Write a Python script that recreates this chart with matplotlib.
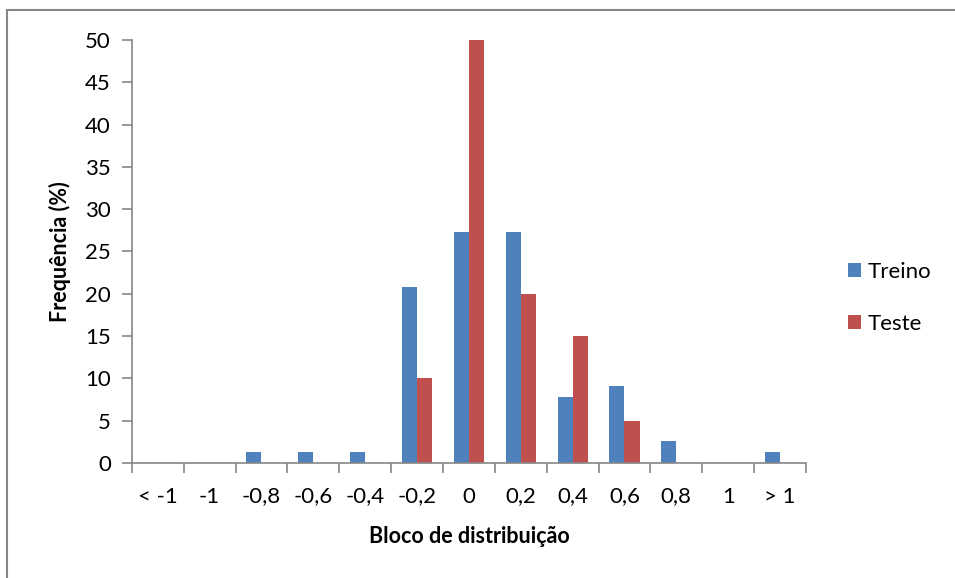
import numpy as np
import matplotlib.pyplot as plt
from matplotlib.lines import Line2D

plt.rcParams['font.family'] = ['Lato', 'DejaVu Sans']

categorias = ['< -1', '-1', '-0,8', '-0,6', '-0,4', '-0,2', '0', '0,2', '0,4', '0,6', '0,8', '1', '> 1']
treino = [0, 0, 1.3, 1.3, 1.3, 20.8, 27.3, 27.3, 7.8, 9.1, 2.6, 0, 1.3]
teste = [0, 0, 0, 0, 0, 10, 50, 20, 15, 5, 0, 0, 0]

azul = '#4F81BD'
vermelho = '#C0504D'
cinza = '#868686'

fig = plt.figure(figsize=(9.55, 5.78), dpi=100)
ax = fig.add_axes([0.138, 0.199, 0.706, 0.732])

x = np.arange(len(categorias))
w = 0.29
ax.bar(x - w / 2, treino, w, color=azul, label='Treino')
ax.bar(x + w / 2, teste, w, color=vermelho, label='Teste')

ax.set_xlim(-0.5, len(categorias) - 0.5)
ax.set_ylim(0, 50)
ax.set_yticks(np.arange(0, 51, 5))
ax.set_xticks(x)
ax.set_xticklabels(categorias)
ax.set_xticks(np.arange(len(categorias) + 1) - 0.5, minor=True)
ax.tick_params(axis='x', which='major', length=0, pad=17, labelsize=16)
ax.tick_params(axis='x', which='minor', length=7, width=1.2, color=cinza)
ax.tick_params(axis='y', length=7, width=1.2, color=cinza, labelsize=16, pad=8)

for s in ['top', 'right']:
    ax.spines[s].set_visible(False)
for s in ['left', 'bottom']:
    ax.spines[s].set_color(cinza)
    ax.spines[s].set_linewidth(1.2)

ax.set_ylabel('Frequência (%)', fontsize=15.5, fontweight='bold', labelpad=10)
ax.set_xlabel('Bloco de distribuição', fontsize=15.5, fontweight='bold', labelpad=14)

ax.legend(loc='center left', bbox_to_anchor=(1.032, 0.39), frameon=False, fontsize=16,
          handlelength=0.6, handleheight=0.6, handletextpad=0.3, labelspacing=1.45)

# moldura da área do gráfico
fig.add_artist(Line2D([0.0075, 0.0075], [0, 0.983], color=cinza, lw=1.5, transform=fig.transFigure))
fig.add_artist(Line2D([0.0075, 1.0], [0.983, 0.983], color=cinza, lw=1.5, transform=fig.transFigure))

fig.savefig('out.png', dpi=100)
